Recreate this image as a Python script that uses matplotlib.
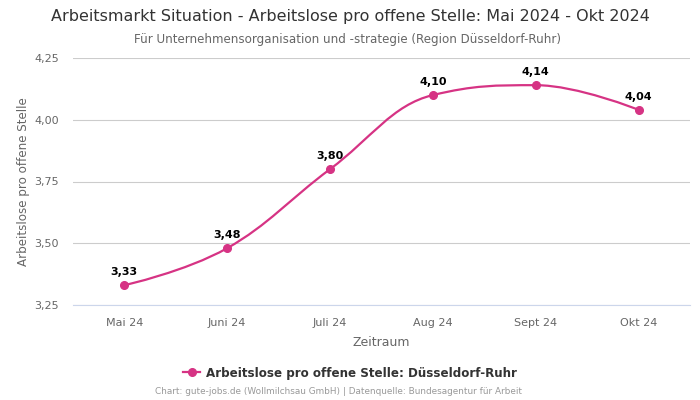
import numpy as np
import matplotlib.pyplot as plt
from matplotlib.path import Path
from matplotlib.patches import PathPatch
from matplotlib.lines import Line2D

# Data
categories = ['Mai 24', 'Juni 24', 'Juli 24', 'Aug 24', 'Sept 24', 'Okt 24']
values = [3.33, 3.48, 3.80, 4.10, 4.14, 4.04]
value_labels = ['3,33', '3,48', '3,80', '4,10', '4,14', '4,04']
y_ticks = [3.25, 3.50, 3.75, 4.00, 4.25]
y_tick_labels = ['3,25', '3,50', '3,75', '4,00', '4,25']

line_color = '#d63384'


def spline_path(xs, ys, smoothing=1.5):
    # bezier control points, same idea as a highcharts spline
    denom = smoothing + 1
    verts = [(xs[0], ys[0])]
    codes = [Path.MOVETO]
    n = len(xs)
    left = [None] * n
    right = [None] * n
    for i in range(1, n - 1):
        x, y = xs[i], ys[i]
        px, py = xs[i - 1], ys[i - 1]
        nx, ny = xs[i + 1], ys[i + 1]
        lcx = (smoothing * x + px) / denom
        lcy = (smoothing * y + py) / denom
        rcx = (smoothing * x + nx) / denom
        rcy = (smoothing * y + ny) / denom
        if rcx != lcx:
            corr = (rcy - lcy) * (rcx - x) / (rcx - lcx) + y - rcy
            lcy += corr
            rcy += corr
        if lcy > py and lcy > y:
            lcy = max(py, y)
            rcy = 2 * y - lcy
        elif lcy < py and lcy < y:
            lcy = min(py, y)
            rcy = 2 * y - lcy
        if rcy > ny and rcy > y:
            rcy = max(ny, y)
            lcy = 2 * y - rcy
        elif rcy < ny and rcy < y:
            rcy = min(ny, y)
            lcy = 2 * y - rcy
        left[i] = (lcx, lcy)
        right[i] = (rcx, rcy)
    for i in range(1, n):
        c1 = right[i - 1] if right[i - 1] is not None else (xs[i - 1], ys[i - 1])
        c2 = left[i] if left[i] is not None else (xs[i], ys[i])
        verts += [c1, c2, (xs[i], ys[i])]
        codes += [Path.CURVE4] * 3
    return Path(verts, codes)


fig = plt.figure(figsize=(7, 4), dpi=100)
ax = fig.add_axes([0.104, 0.2375, 0.882, 0.6175])

x = np.arange(len(categories))
ax.add_patch(PathPatch(spline_path(list(x), values), facecolor='none',
                       edgecolor=line_color, lw=1.6, zorder=3))
ax.plot(x, values, 'o', color=line_color, markersize=5.5, zorder=4)

for xi, v, lab in zip(x, values, value_labels):
    ax.annotate(lab, (xi, v), xytext=(0, 6), textcoords='offset points',
                ha='center', va='bottom', fontsize=8, fontweight='bold', color='black')

ax.set_xlim(-0.5, len(categories) - 0.5)
ax.set_ylim(3.25, 4.25)
ax.set_yticks(y_ticks)
ax.set_yticklabels(y_tick_labels)
ax.set_xticks(x)
ax.set_xticklabels(categories)
ax.tick_params(axis='both', length=0, labelsize=8, colors='#666666')
ax.tick_params(axis='x', pad=9)
ax.tick_params(axis='y', pad=10)
ax.grid(axis='y', color='#cccccc', lw=0.8)
ax.set_axisbelow(True)
for s in ['top', 'right', 'left']:
    ax.spines[s].set_visible(False)
ax.spines['bottom'].set_color('#ccd6eb')
ax.spines['bottom'].set_linewidth(0.8)

ax.set_xlabel('Zeitraum', fontsize=9, color='#666666', labelpad=6)
ax.set_ylabel('Arbeitslose pro offene Stelle', fontsize=8.6, color='#666666', labelpad=3)

fig.text(0.5, 1 - 17 / 400, 'Arbeitsmarkt Situation - Arbeitslose pro offene Stelle: Mai 2024 - Okt 2024',
         ha='center', va='center', fontsize=11.5, color='#333333')
fig.text(0.497, 1 - 39 / 400, 'Für Unternehmensorganisation und -strategie (Region Düsseldorf-Ruhr)',
         ha='center', va='center', fontsize=8.6, color='#666666')

handle = Line2D([], [], color=line_color, marker='o', markersize=5.5, lw=1.6)
fig.legend([handle], ['Arbeitslose pro offene Stelle: Düsseldorf-Ruhr'],
           loc='center', bbox_to_anchor=(0.5, 1 - 373 / 400), frameon=False,
           prop={'size': 8.6, 'weight': 'bold'}, labelcolor='#333333',
           handlelength=1.4, handletextpad=0.5)

fig.text(0.483, 1 - 392 / 400, 'Chart: gute-jobs.de (Wollmilchsau GmbH) | Datenquelle: Bundesagentur für Arbeit',
         ha='center', va='center', fontsize=6.4, color='#999999')

fig.savefig('out.png', dpi=100)
